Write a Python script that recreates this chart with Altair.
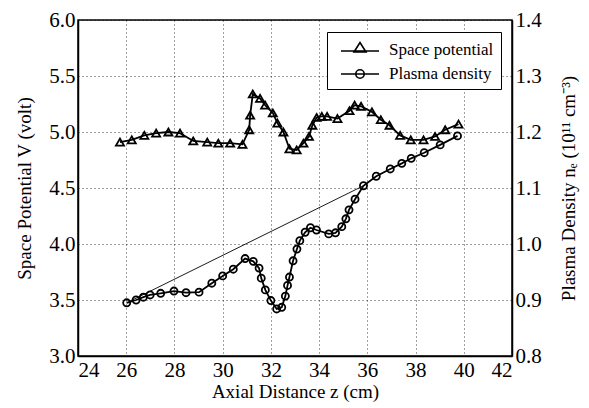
import altair as alt
import pandas as pd

# Space potential (left axis, volt)
z_pot = [25.74, 26.23, 26.75, 27.24, 27.75, 28.23, 28.78, 29.36, 29.82, 30.31,
         30.82, 31.10, 31.14, 31.25, 31.55, 31.76, 32.08, 32.27, 32.52, 32.77,
         33.07, 33.35, 33.58, 33.72, 33.90, 34.11, 34.33, 34.76, 35.26, 35.47,
         35.74, 36.19, 36.56, 36.92, 37.36, 37.80, 38.33, 38.81, 39.23, 39.78]
v_pot = [4.91, 4.93, 4.97, 4.99, 5.00, 4.99, 4.92, 4.91, 4.90, 4.90,
         4.89, 5.02, 5.15, 5.34, 5.30, 5.24, 5.17, 5.08, 5.00, 4.85,
         4.84, 4.90, 4.96, 5.06, 5.13, 5.14, 5.14, 5.12, 5.19, 5.24,
         5.23, 5.18, 5.11, 5.06, 4.97, 4.93, 4.93, 4.96, 5.02, 5.07]

# Plasma density (right axis, 1e11 cm^-3)
z_den = [26.02, 26.41, 26.71, 26.99, 27.43, 27.98, 28.48, 29.02, 29.55, 30.00,
         30.44, 30.93, 31.27, 31.51, 31.60, 31.77, 32.00, 32.24, 32.45, 32.60,
         32.69, 32.77, 32.92, 33.08, 33.20, 33.42, 33.64, 33.89, 34.40, 34.68,
         34.94, 35.11, 35.24, 35.49, 35.84, 36.37, 36.95, 37.43, 37.82, 38.36,
         39.02, 39.74]
n_den = [0.895, 0.900, 0.905, 0.909, 0.912, 0.916, 0.913, 0.914, 0.930, 0.943,
         0.955, 0.974, 0.969, 0.957, 0.939, 0.918, 0.899, 0.884, 0.887, 0.907,
         0.926, 0.941, 0.970, 0.991, 1.006, 1.021, 1.029, 1.025, 1.018, 1.020,
         1.031, 1.045, 1.061, 1.080, 1.104, 1.121, 1.134, 1.144, 1.153, 1.163,
         1.177, 1.193]
# thin straight segment joins these two density points
link_idx = [0, 34]

legend_labels = ["Space potential", "Plasma density"]
x_ticks = [24, 26, 28, 30, 32, 34, 36, 38, 40, 42]
yl_ticks = [3.0, 3.5, 4.0, 4.5, 5.0, 5.5, 6.0]
yr_ticks = [0.8, 0.9, 1.0, 1.1, 1.2, 1.3, 1.4]

FONT = "Liberation Serif"

pot = pd.DataFrame({"z": z_pot, "v": v_pot})
den = pd.DataFrame({"z": z_den, "n": n_den})
link = pd.DataFrame({"z": [z_den[i] for i in link_idx], "n": [n_den[i] for i in link_idx]})
leg = pd.DataFrame({"series": legend_labels})

xenc = alt.X("z:Q", scale=alt.Scale(domain=[24, 42], nice=False, zero=False),
             axis=alt.Axis(values=x_ticks, title="Axial Distance z (cm)", format="d",
                           grid=True))
yl = alt.Y("v:Q", scale=alt.Scale(domain=[3, 6], nice=False, zero=False),
           axis=alt.Axis(values=yl_ticks, format=".1f", title="Space Potential V (volt)",
                         grid=True, orient="left"))
yr = alt.Y("n:Q", scale=alt.Scale(domain=[0.8, 1.4], nice=False, zero=False),
           axis=alt.Axis(values=yr_ticks, format=".1f",
                         title="Plasma Density nₑ (10¹¹ cm⁻³)",
                         grid=False, orient="right", titleAngle=270,
                         titleBaseline="top", titlePadding=18))

pot_line = alt.Chart(pot).mark_line(color="black", strokeWidth=1.8).encode(x=xenc, y=yl)
pot_pts = alt.Chart(pot).mark_point(shape="triangle-up", filled=False, color="black",
                                    size=65, strokeWidth=1.8, opacity=1).encode(x=xenc, y=yl)

tri_path = "M-1.9,0.1H1.9M-0.6,0.2L0,-0.75L0.6,0.2Z"
circ_path = "M-1.9,0H1.9M-0.42,0A0.42,0.42 0 1,0 0.42,0A0.42,0.42 0 1,0 -0.42,0"
legend_layer = alt.Chart(leg).mark_point(opacity=0, color="black").encode(
    x=alt.value(0), y=alt.value(0),
    shape=alt.Shape("series:N",
                    scale=alt.Scale(domain=legend_labels, range=[tri_path, circ_path]),
                    legend=alt.Legend(title=None, orient="none", legendX=249, legendY=12,
                                      fillColor="white", strokeColor="black",
                                      padding=7, symbolSize=400, symbolOffset=15,
                                      symbolStrokeWidth=1.6, symbolStrokeColor="black",
                                      symbolFillColor="transparent", symbolOpacity=1,
                                      labelFont=FONT, labelFontSize=17, labelColor="black",
                                      labelOffset=18, rowPadding=5)))

left = alt.layer(pot_line, pot_pts, legend_layer)

den_line = alt.Chart(den).mark_line(color="black", strokeWidth=1.8).encode(x=xenc, y=yr)
den_pts = alt.Chart(den).mark_point(shape="circle", filled=False, color="black",
                                    size=50, strokeWidth=1.8, opacity=1).encode(x=xenc, y=yr)
link_line = alt.Chart(link).mark_line(color="black", strokeWidth=0.9).encode(x=xenc, y=yr)

right = alt.layer(link_line, den_line, den_pts)

chart = alt.layer(left, right).resolve_scale(y="independent").properties(
    width=434, height=336,
    autosize=alt.AutoSizeParams(type="none"),
    padding={"left": 78, "top": 20, "right": 77, "bottom": 52},
).configure_view(stroke="black", strokeWidth=1.5).configure_axis(
    labelFont=FONT, labelFontSize=21, labelColor="black", labelPadding=3,
    titleFont=FONT, titleFontSize=19, titleFontWeight="normal", titleColor="black",
    domainColor="black", domainWidth=1.5, ticks=False,
    gridColor="black", gridDash=[1, 3], gridWidth=1, gridOpacity=0.75,
).configure_axisLeft(titlePadding=14).configure_axisBottom(titlePadding=2)

chart.save("out.html", embed_options={"renderer": "svg", "actions": False})
